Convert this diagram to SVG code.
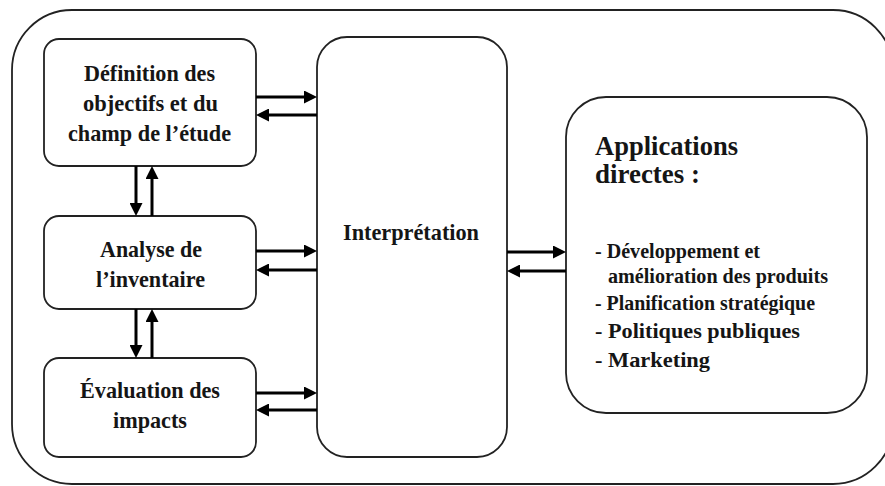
<svg xmlns="http://www.w3.org/2000/svg" width="885" height="486" viewBox="0 0 885 486">
<style>
.box{fill:#fff;stroke:#222;stroke-width:1.8}
.t{font-family:"Liberation Serif","DejaVu Serif","Noto Serif",Tinos,serif;font-weight:bold;fill:#151515}
.c{font-size:24px}
.ti{font-size:27px}
.s{font-size:20px}
.m{font-size:22px}
.ar{fill:none;stroke:#000;stroke-width:3;marker-end:url(#ah)}
</style>
<defs>
<marker id="ah" markerUnits="userSpaceOnUse" markerWidth="13" markerHeight="13" refX="1" refY="6.5" orient="auto">
<path d="M0,0 L13,6.5 L0,13 z" fill="#000"/>
</marker>
</defs>
<rect width="885" height="486" fill="#fff"/>
<g id="frame"><rect x="12" y="10" width="881" height="474" rx="60" ry="60" fill="none" stroke="#222" stroke-width="1.8"/></g>
<g id="n1">
<rect class="box" x="44" y="39" width="212" height="127" rx="15"/>
<text class="t c" x="84" y="81" textLength="131" lengthAdjust="spacingAndGlyphs">Définition des</text>
<text class="t c" x="83" y="111" textLength="135" lengthAdjust="spacingAndGlyphs">objectifs et du</text>
<text class="t c" x="68" y="141" textLength="163" lengthAdjust="spacingAndGlyphs">champ de l’étude</text>
</g>
<g id="n2">
<rect class="box" x="44" y="216" width="212" height="93" rx="15"/>
<text class="t c" x="100" y="257" textLength="102" lengthAdjust="spacingAndGlyphs">Analyse de</text>
<text class="t c" x="96" y="287" textLength="109" lengthAdjust="spacingAndGlyphs">l’inventaire</text>
</g>
<g id="n3">
<rect class="box" x="44" y="358" width="212" height="99" rx="15"/>
<text class="t c" x="80" y="398" textLength="140" lengthAdjust="spacingAndGlyphs">Évaluation des</text>
<text class="t c" x="113" y="428" textLength="74" lengthAdjust="spacingAndGlyphs">impacts</text>
</g>
<g id="n4">
<rect class="box" x="317" y="37" width="190" height="420" rx="30"/>
<text class="t c" x="343" y="240" textLength="136" lengthAdjust="spacingAndGlyphs">Interprétation</text>
</g>
<g id="n5">
<rect class="box" x="566" y="97" width="301" height="316" rx="40"/>
<text class="t ti" x="595" y="155" textLength="143" lengthAdjust="spacingAndGlyphs">Applications</text>
<text class="t ti" x="595" y="183" textLength="105" lengthAdjust="spacingAndGlyphs">directes :</text>
<text class="t s" x="595" y="258" textLength="165" lengthAdjust="spacingAndGlyphs">- Développement et</text>
<text class="t s" x="608" y="283" textLength="220" lengthAdjust="spacingAndGlyphs">amélioration des produits</text>
<text class="t s" x="595" y="310" textLength="220" lengthAdjust="spacingAndGlyphs">- Planification stratégique</text>
<text class="t m" x="595" y="338" textLength="205" lengthAdjust="spacingAndGlyphs">- Politiques publiques</text>
<text class="t m" x="595" y="367" textLength="115" lengthAdjust="spacingAndGlyphs">- Marketing</text>
</g>
<g id="connectors">
<path class="ar" d="M256,97 H305"/>
<path class="ar" d="M317,115 H268"/>
<path class="ar" d="M256,251 H305"/>
<path class="ar" d="M317,270 H268"/>
<path class="ar" d="M256,393 H305"/>
<path class="ar" d="M317,410 H268"/>
<path class="ar" d="M507,252 H554"/>
<path class="ar" d="M566,271 H519"/>
<path class="ar" d="M136,166 V204"/>
<path class="ar" d="M152,216 V178"/>
<path class="ar" d="M136,309 V346"/>
<path class="ar" d="M152,358 V321"/>
</g>
</svg>
